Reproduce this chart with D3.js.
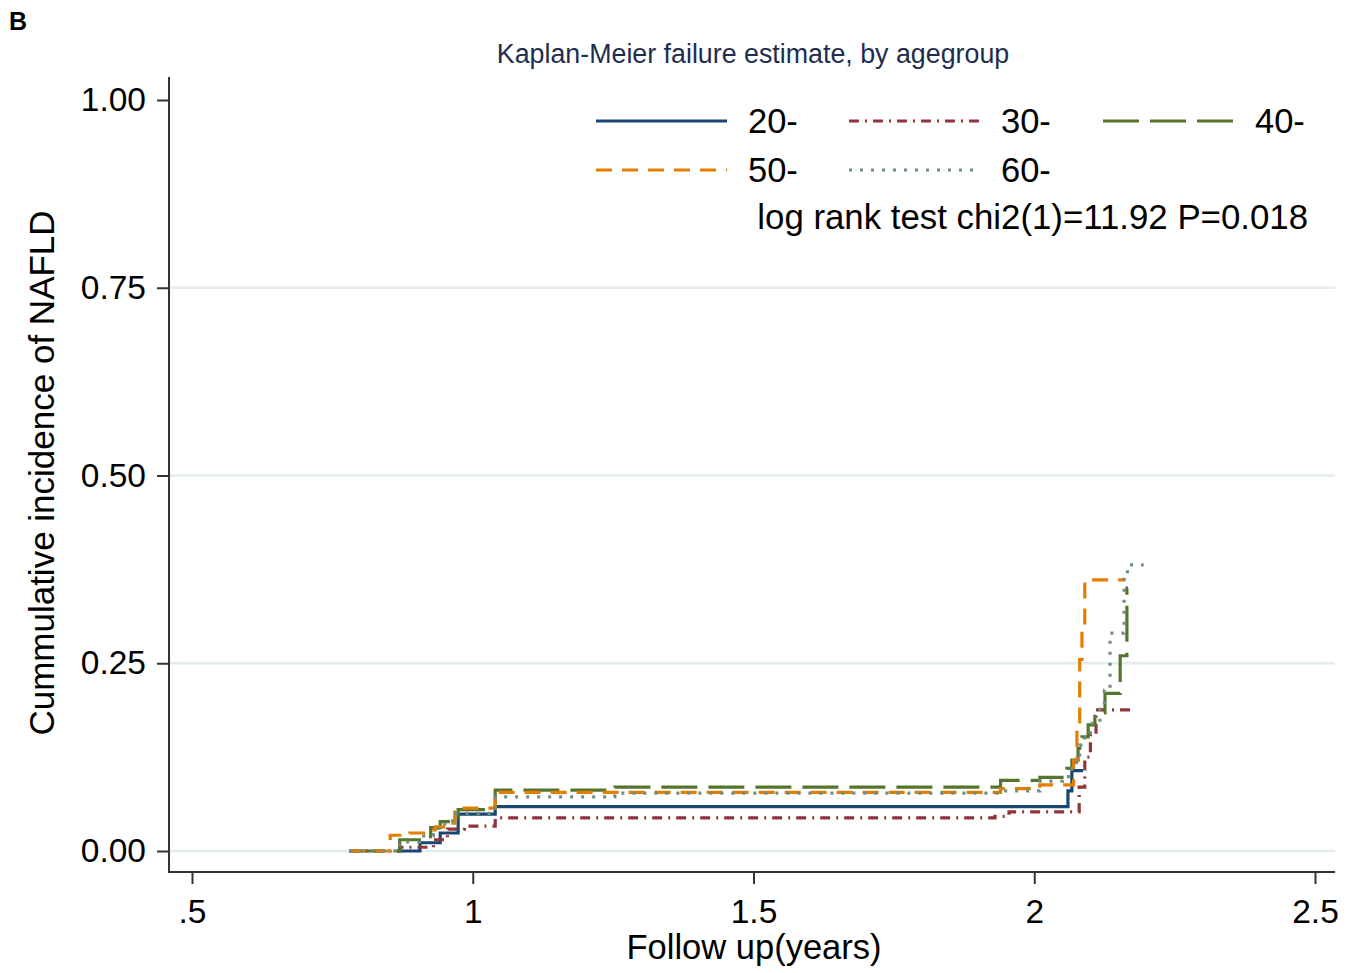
<!DOCTYPE html>
<html>
<head>
<meta charset="utf-8">
<script src="https://cdn.jsdelivr.net/npm/d3@7"></script>
<style>
  body { margin: 0; background: #fff; }
  svg { font-family: "Liberation Sans", Arial, sans-serif; }
</style>
</head>
<body>
<div id="canvas"></div>
<script>
// Kaplan-Meier failure (cumulative incidence) by agegroup, step data
const groups = ["20-", "30-", "40-", "50-", "60-"];
const colors = ["#1a476f", "#90353b", "#55752f", "#e37e00", "#6e8e84"];
const dashes = ["none", "10,6,2,6", "36,11", "16,10", "3,8"];

const t20 = [0.865, 0.906, 0.942, 0.974, 1.040, 2.060, 2.067, 2.087];
const f20 = [0, 0.011, 0.024, 0.049, 0.059, 0.080, 0.107, 0.107];

const t30 = [0.78, 0.87, 0.93, 0.955, 0.985, 1.04, 1.93, 1.955, 2.08, 2.09, 2.10, 2.11, 2.18];
const f30 = [0, 0.005, 0.015, 0.029, 0.033, 0.044, 0.046, 0.052, 0.085, 0.125, 0.155, 0.188, 0.188];

const t40 = [0.78, 0.87, 0.905, 0.925, 0.942, 0.974, 1.040, 1.253, 1.94, 2.01, 2.058, 2.067, 2.078, 2.085, 2.096, 2.108, 2.126, 2.153, 2.165, 2.167];
const f40 = [0, 0.015, 0.019, 0.031, 0.039, 0.055, 0.081, 0.085, 0.094, 0.098, 0.11, 0.121, 0.137, 0.152, 0.168, 0.184, 0.21, 0.26, 0.35, 0.35];

const t50 = [0.78, 0.853, 0.888, 0.924, 0.933, 0.951, 0.968, 1.04, 1.94, 2.01, 2.07, 2.076, 2.081, 2.085, 2.090, 2.162];
const f50 = [0, 0.021, 0.024, 0.028, 0.032, 0.037, 0.057, 0.078, 0.083, 0.088, 0.12, 0.165, 0.255, 0.30, 0.361, 0.361];

const t60 = [0.78, 0.87, 0.905, 0.93, 0.95, 0.97, 1.04, 1.253, 1.94, 2.01, 2.05, 2.067, 2.075, 2.081, 2.09, 2.10, 2.117, 2.125, 2.135, 2.160, 2.166, 2.195];
const f60 = [0, 0.012, 0.02, 0.03, 0.04, 0.05, 0.072, 0.077, 0.08, 0.093, 0.099, 0.11, 0.125, 0.141, 0.155, 0.17, 0.194, 0.214, 0.29, 0.367, 0.381, 0.381];

const times = [t20, t30, t40, t50, t60];
const fails = [f20, f30, f40, f50, f60];

const xTicks = [0.5, 1, 1.5, 2, 2.5];
const xTickLabels = [".5", "1", "1.5", "2", "2.5"];
const yTicks = [0, 0.25, 0.5, 0.75, 1];
const gridTicks = [0, 0.25, 0.5, 0.75];

const W = 1358, H = 973;
const plotLeft = 169, plotRight = 1335, plotTop = 77, plotBottom = 872;

const svg = d3.select('#canvas').append('svg')
    .attr('width', W)
    .attr('height', H)
    .style('background', '#fff');

const x = d3.scaleLinear().domain([0.5, 2.5]).range([192, 1315]);
const y = d3.scaleLinear().domain([0, 1]).range([851, 100]);

// grid
svg.append('g').selectAll('line').data(gridTicks)
    .enter().append('line')
        .attr('x1', plotLeft + 1).attr('x2', plotRight)
        .attr('y1', d => y(d)).attr('y2', d => y(d))
        .attr('stroke', '#e3ecf0')
        .attr('stroke-width', 2.5);

// axes
const yAxis = svg.append('g')
    .attr('transform', `translate(${plotLeft},0)`)
    .call(d3.axisLeft(y).tickValues(yTicks).tickFormat(d3.format('.2f')).tickSize(12).tickPadding(11));
const xAxis = svg.append('g')
    .attr('transform', `translate(0,${plotBottom})`)
    .call(d3.axisBottom(x).tickValues(xTicks).tickFormat((d, i) => xTickLabels[i]).tickSize(12).tickPadding(15));

[yAxis, xAxis].forEach(g => {
    g.select('.domain').remove();
    g.selectAll('.tick line').attr('stroke', '#333').attr('stroke-width', 2);
    g.selectAll('.tick text').attr('fill', '#000').style('font-size', '33.5px')
        .style('font-family', '"Liberation Sans", Arial, sans-serif');
});
svg.append('line').attr('x1', plotLeft).attr('x2', plotLeft).attr('y1', plotTop).attr('y2', plotBottom + 1)
    .attr('stroke', '#333').attr('stroke-width', 2);
svg.append('line').attr('x1', plotLeft).attr('x2', plotRight).attr('y1', plotBottom).attr('y2', plotBottom)
    .attr('stroke', '#333').attr('stroke-width', 2);

// curves
const line = d3.line()
    .x(d => x(d[0]))
    .y(d => y(d[1]))
    .curve(d3.curveStepAfter);

svg.append('g').selectAll('path').data(groups)
    .enter().append('path')
        .attr('d', (g, i) => line(d3.zip(times[i], fails[i])))
        .attr('fill', 'none')
        .attr('stroke', (g, i) => colors[i])
        .attr('stroke-width', 3.2)
        .attr('stroke-dasharray', (g, i) => dashes[i]);

// legend
const legendPos = [[596, 121], [849, 121], [1103, 121], [596, 170], [849, 170]];
const leg = svg.append('g').selectAll('g').data(groups)
    .enter().append('g')
        .attr('transform', (g, i) => `translate(${legendPos[i][0]},${legendPos[i][1]})`);
leg.append('line')
    .attr('x1', 0).attr('x2', 131)
    .attr('stroke', (g, i) => colors[i])
    .attr('stroke-width', 3)
    .attr('stroke-dasharray', (g, i) => dashes[i]);
leg.append('text')
    .attr('x', 152).attr('y', 12)
    .style('font-size', '34.5px')
    .text(d => d);

svg.append('text')
    .attr('x', 1308).attr('y', 229)
    .attr('text-anchor', 'end')
    .style('font-size', '34.8px')
    .text('log rank test chi2(1)=11.92 P=0.018');

// titles
svg.append('text')
    .attr('x', 753).attr('y', 63)
    .attr('text-anchor', 'middle')
    .attr('fill', '#1e2d4f')
    .style('font-size', '26.8px')
    .text('Kaplan-Meier failure estimate, by agegroup');

svg.append('text')
    .attr('transform', 'translate(54,473) rotate(-90)')
    .attr('text-anchor', 'middle')
    .style('font-size', '35px')
    .text('Cummulative incidence of NAFLD');

svg.append('text')
    .attr('x', 754).attr('y', 959)
    .attr('text-anchor', 'middle')
    .style('font-size', '34.5px')
    .text('Follow up(years)');

svg.append('text')
    .attr('x', 9).attr('y', 30)
    .style('font-size', '25px')
    .style('font-weight', 'bold')
    .text('B');
</script>
</body>
</html>
